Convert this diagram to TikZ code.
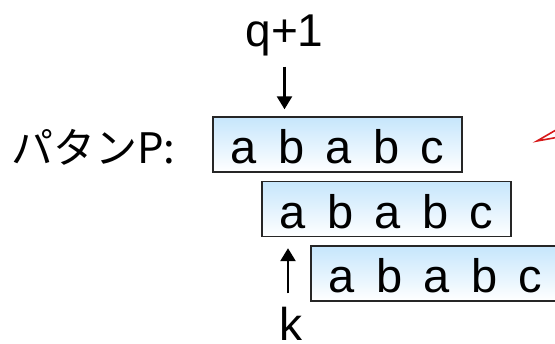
\documentclass[tikz,border=0pt]{standalone}
\usepackage{fontspec}
\setmainfont{Liberation Sans}
\newfontfamily\jpfont{Noto Sans CJK JP}
\newfontfamily\rowfont[WordSpace=1.63]{Liberation Sans}
\usetikzlibrary{arrows.meta}
\definecolor{RowTop}{RGB}{198,230,252}
\definecolor{NoteRed}{RGB}{215,25,25}

\begin{document}
\begin{tikzpicture}[x=1pt,y=-1pt,
  font=\fontsize{46}{54}\selectfont,
  row/.style={draw=black!85,line width=1.4pt,top color=RowTop,bottom color=white,
              minimum width=249pt,minimum height=55pt,inner sep=0pt,
              text height=39pt,text depth=0pt,font=\fontsize{47}{54}\rowfont},
  lbl/.style={inner sep=0pt,anchor=base},
  ar/.style={-{Triangle[width=15pt,length=13pt]},line width=2.6pt},
  callout/.style={draw=NoteRed,line width=1.6pt,line join=miter},
]
\useasboundingbox (0,0) rectangle (555,344);
\clip (0,0) rectangle (555,344);

% the pattern, shifted one step per row
\node[row] (rowA) at (337.5,144.5) {a b a b c};
\node[row] (rowB) at (386.5,209) {a b a b c};
\node[row] (rowC) at (435.5,273.5) {a b a b c};

\node[lbl,anchor=base west,font=\fontsize{42}{50}\jpfont] (patlabel) at (11,164) {パタンP:};
\node[lbl] (qlabel) at (284.5,47) {q+1};
\node[lbl] (klabel) at (291,341) {k};

\draw[ar] ([yshift=-10pt]qlabel.south) -- ([yshift=7pt]rowA.north -| qlabel);
\draw[ar] ([yshift=14pt]klabel.north -| 288,0) -- ([yshift=-11pt]rowB.south -| 288,0);

% tail of the note bubble
\draw[callout] (562,126.5) -- (537,141) -- (562,136.5);
\end{tikzpicture}
\end{document}
